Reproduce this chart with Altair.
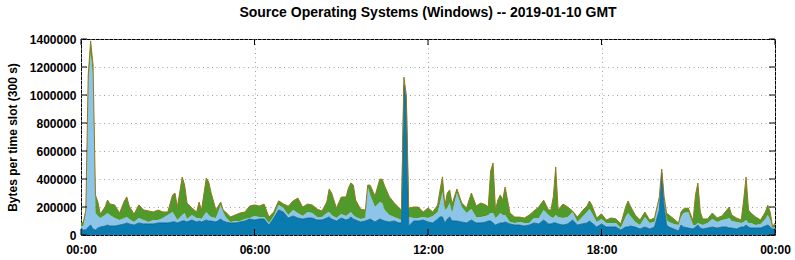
import altair as alt
import pandas as pd

# time slot start, minutes after 2019-01-10 00:00 GMT
minutes = [0, 5, 10, 15, 20, 25, 30, 35, 40, 50, 55, 60, 70, 80, 90, 95, 100, 110, 120, 130,
           140, 150, 160, 170, 180, 190, 195, 200, 210, 215, 220, 230, 240, 245, 250, 260, 265, 270, 280, 290,
           295, 300, 310, 320, 330, 340, 350, 360, 370, 380, 390, 400, 410, 420, 430, 440, 450, 460, 470, 480,
           490, 500, 510, 515, 520, 530, 540, 550, 555, 560, 565, 570, 580, 590, 595, 600, 610, 620, 625, 630,
           640, 650, 660, 665, 670, 675, 680, 690, 700, 710, 720, 730, 740, 745, 750, 755, 760, 765, 770, 780,
           790, 800, 810, 820, 830, 840, 845, 850, 855, 860, 865, 870, 875, 880, 890, 900, 910, 920, 930, 940,
           950, 960, 970, 975, 980, 985, 990, 1000, 1010, 1020, 1030, 1040, 1050, 1055, 1060, 1070, 1080, 1090, 1100, 1110,
           1120, 1130, 1135, 1140, 1150, 1160, 1170, 1180, 1190, 1200, 1205, 1210, 1215, 1220, 1230, 1240, 1245, 1250, 1260, 1270,
           1275, 1280, 1285, 1290, 1300, 1310, 1320, 1330, 1340, 1345, 1350, 1360, 1370, 1375, 1380, 1385, 1390, 1400, 1410, 1420,
           1425, 1430, 1435, 1440]

# bytes per slot, thousands
dark_k = [50, 36, 36, 57, 71, 43, 36, 50, 57, 64, 71, 64, 64, 71, 79, 86, 79, 71, 86, 79,
          79, 79, 86, 86, 86, 93, 93, 86, 100, 100, 93, 107, 93, 100, 93, 107, 100, 100, 93, 114,
          100, 93, 86, 86, 93, 100, 114, 107, 114, 114, 71, 121, 179, 164, 121, 136, 121, 114, 121, 121,
          107, 107, 121, 129, 114, 100, 121, 107, 114, 129, 114, 107, 93, 100, 107, 114, 93, 114, 107, 100,
          93, 100, 86, 86, 1071, 950, 64, 100, 100, 107, 93, 86, 114, 129, 129, 86, 114, 129, 100, 100,
          93, 86, 107, 86, 86, 93, 100, 100, 86, 71, 79, 86, 86, 93, 79, 71, 71, 64, 71, 86,
          79, 107, 79, 79, 86, 86, 79, 71, 79, 107, 71, 79, 86, 100, 86, 57, 79, 57, 57, 57,
          36, 57, 57, 64, 57, 43, 57, 43, 57, 179, 443, 200, 71, 57, 43, 29, 71, 57, 50, 43,
          57, 71, 50, 43, 50, 57, 50, 57, 57, 50, 50, 43, 57, 57, 71, 57, 50, 50, 50, 64,
          71, 57, 43, 43]

light_k = [14, 29, 121, 1014, 1229, 1100, 121, 86, 64, 79, 86, 79, 57, 36, 43, 43, 36, 21, 36, 29,
           14, 29, 21, 36, 57, 71, 43, 21, 43, 57, 21, 36, 29, 21, 21, 57, 43, 29, 29, 100,
           64, 36, 7, 14, 7, 14, 7, 29, 14, 14, 14, 14, 36, 29, 21, 43, 36, 21, 43, 36,
           21, 21, 36, 36, 29, 21, 29, 29, 36, 36, 29, 21, 21, 21, 236, 171, 107, 121, 121, 79,
           50, 29, 29, 21, 21, 21, 64, 21, 21, 21, 29, 50, 50, 100, 179, 93, 79, 100, 57, 200,
           107, 71, 79, 43, 43, 43, 43, 57, 71, 50, 57, 71, 57, 50, 14, 14, 21, 21, 14, 36,
           43, 71, 64, 50, 36, 57, 50, 50, 50, 57, 21, 50, 79, 86, 71, 36, 36, 29, 29, 29,
           14, 71, 100, 71, 36, 29, 71, 43, 36, 86, 7, 50, 36, 36, 36, 43, 57, 100, 114, 29,
           14, 14, 29, 29, 36, 57, 43, 50, 57, 71, 50, 50, 29, 36, 36, 29, 36, 21, 29, 50,
           71, 50, 7, 14]

green_k = [21, 29, 21, 71, 86, 71, 129, 100, 29, 57, 93, 79, 93, 50, 121, 143, 93, 57, 93, 71,
           79, 57, 71, 43, 21, 121, 164, 93, 271, 200, 114, 50, 43, 114, 64, 243, 236, 171, 57, 21,
           14, 36, 36, 43, 57, 50, 86, 79, 79, 93, 43, 29, 29, 29, 64, 64, 107, 64, 57, 57,
           57, 43, 79, 164, 157, 71, 121, 136, 186, 207, 214, 121, 71, 57, 14, 71, 79, 164, 171, 171,
           129, 100, 79, 71, 36, 29, 64, 79, 79, 36, 71, 29, 50, 93, 107, 29, 107, 93, 64, 29,
           29, 36, 114, 79, 100, 79, 57, 300, 357, 57, 114, 129, 107, 200, 64, 43, 36, 36, 57, 50,
           79, 71, 36, 50, 150, 343, 50, 100, 71, 7, 36, 43, 43, 57, 57, 29, 36, 21, 36, 29,
           29, 71, 86, 71, 50, 36, 36, 21, 29, 7, 21, 21, 50, 50, 36, 14, 36, 29, 29, 29,
           214, 286, 86, 43, 29, 43, 29, 29, 64, 79, 43, 29, 21, 157, 307, 93, 71, 57, 29, 50,
           71, 57, 7, 29]

series_names = ["Windows dark", "Windows light", "Windows green"]
series_colors = ["#0a7bb1", "#8cc5e7", "#4f9a2b"]

y_ticks = [0, 200000, 400000, 600000, 800000, 1000000, 1200000, 1400000]
x_tick_hours = [0, 6, 12, 18, 24]


def stamp(m):
    day = 10 + m // 1440
    m = m % 1440
    return f"2019-01-{day:02d}T{m // 60:02d}:{m % 60:02d}:00Z"


rows = []
wide = []
for i, m in enumerate(minutes):
    vals = [dark_k[i] * 1000, light_k[i] * 1000, green_k[i] * 1000]
    for j, name in enumerate(series_names):
        rows.append({"time": stamp(m), "series": name, "ord": j, "value": vals[j]})
    wide.append({"time": stamp(m), "dark": vals[0], "total": sum(vals)})
df = pd.DataFrame(rows)
wf = pd.DataFrame(wide)

W, H = 694, 196
FONT = "Liberation Sans"

x_dom = [alt.DateTime(year=2019, month=1, date=10, hours=0, utc=True),
         alt.DateTime(year=2019, month=1, date=11, hours=0, utc=True)]
x_vals = [alt.DateTime(year=2019, month=1, date=10 + h // 24, hours=h % 24, utc=True) for h in x_tick_hours]
xscale = alt.Scale(type="utc", domain=x_dom)
yscale = alt.Scale(domain=[0, 1400000], nice=False)

x_axis = alt.Axis(values=x_vals, format="%H:%M", title=None, grid=True,
                  gridColor="#a0a0a0", gridDash=[1, 3.5], gridWidth=1,
                  tickSize=0, domain=False, labelPadding=9,
                  labelFont=FONT, labelFontSize=12, labelFontWeight="bold",
                  labelColor="black", labelFlush=False)
y_axis = alt.Axis(values=y_ticks, format="d", title="Bytes per time slot (300 s)",
                  grid=True, gridColor="#a0a0a0", gridDash=[1, 3.5], gridWidth=1,
                  tickSize=0, domain=False, labelPadding=5,
                  labelFont=FONT, labelFontSize=12, labelFontWeight="bold", labelColor="black",
                  titleFont=FONT, titleFontSize=12, titleFontWeight="bold", titleColor="black",
                  titlePadding=10)


def xe(field):
    return alt.X(field, scale=xscale, axis=x_axis)


def ye(field, **kw):
    return alt.Y(field, scale=yscale, axis=y_axis, **kw)


area = alt.Chart(df).mark_area(interpolate="linear").encode(
    x=xe("time:T"),
    y=ye("value:Q", stack="zero"),
    color=alt.Color("series:N", scale=alt.Scale(domain=series_names, range=series_colors), legend=None),
    order=alt.Order("ord:Q", sort="ascending"),
)

top_line = alt.Chart(wf).mark_line(color="#94781f", strokeWidth=1).encode(
    x=xe("time:T"), y=ye("total:Q"))
dark_line = alt.Chart(wf).mark_line(color="#0b5f88", strokeWidth=0.8).encode(
    x=xe("time:T"), y=ye("dark:Q"))

ytdf = pd.DataFrame({"v": y_ticks})
xtdf = pd.DataFrame({"t": [stamp(h * 60) for h in x_tick_hours]})

tick_l = alt.Chart(ytdf).mark_rule(color="black").encode(
    y=ye("v:Q"), x=alt.value(0), x2=alt.value(6))
tick_r = alt.Chart(ytdf).mark_rule(color="black").encode(
    y=ye("v:Q"), x=alt.value(W - 6), x2=alt.value(W))
tick_b = alt.Chart(xtdf).mark_rule(color="black").encode(
    x=xe("t:T"), y=alt.value(H - 6), y2=alt.value(H))
tick_t = alt.Chart(xtdf).mark_rule(color="black").encode(
    x=xe("t:T"), y=alt.value(0), y2=alt.value(6))

chart = alt.layer(area, dark_line, top_line, tick_l, tick_r, tick_b, tick_t).properties(
    width=W, height=H,
    background="white",
    title=alt.TitleParams("Source Operating Systems (Windows) -- 2019-01-10 GMT",
                          font=FONT, fontSize=14, fontWeight="bold", color="black",
                          anchor="middle", offset=13),
    autosize=alt.AutoSizeParams(type="none"),
    padding={"left": 81, "top": 39, "right": 20, "bottom": 25},
).configure_view(stroke="black", strokeWidth=1)

chart.save("out.html", embed_options={"renderer": "svg", "actions": False})
